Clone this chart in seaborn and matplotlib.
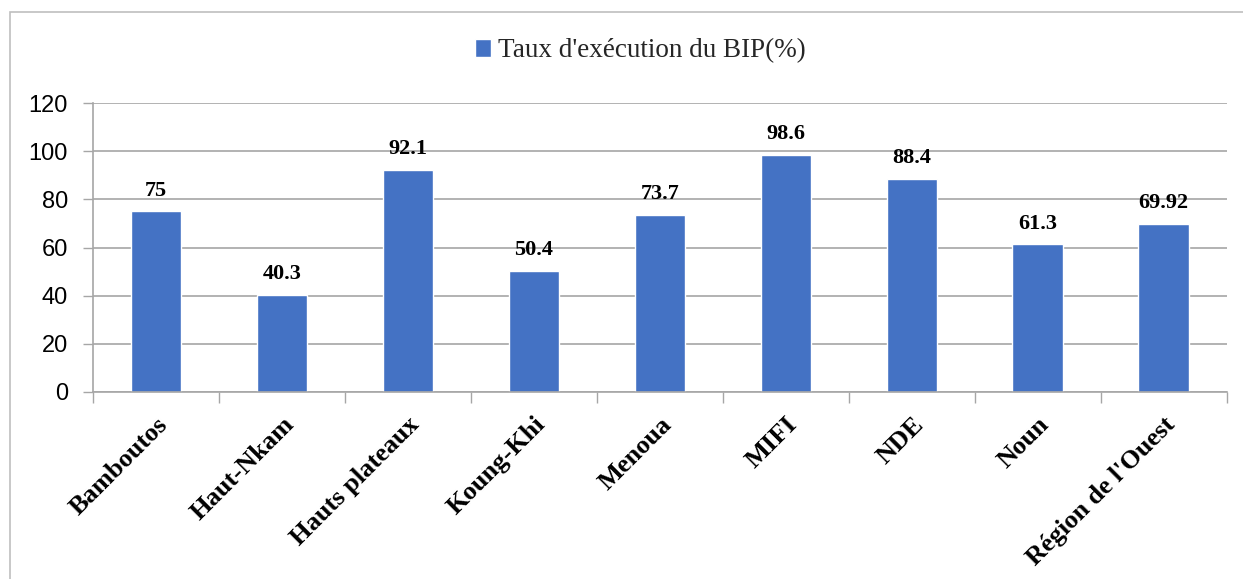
import numpy as np
import pandas as pd
import matplotlib
matplotlib.use("Agg")
import matplotlib.pyplot as plt
import seaborn as sns
from matplotlib.patches import Rectangle

# data
departements = ["Bamboutos", "Haut-Nkam", "Hauts plateaux", "Koung-Khi", "Menoua",
                "MIFI", "NDE", "Noun", "Région de l'Ouest"]
taux_execution = [75, 40.3, 92.1, 50.4, 73.7, 98.6, 88.4, 61.3, 69.92]
value_labels = ["75", "40.3", "92.1", "50.4", "73.7", "98.6", "88.4", "61.3", "69.92"]
y_ticks = [0, 20, 40, 60, 80, 100, 120]
serie_name = "Taux d'exécution du BIP(%)"

df = pd.DataFrame({"Departement": departements, "Taux": taux_execution})

sns.set_theme(style="white")
plt.rcParams["font.family"] = ["Liberation Sans", "DejaVu Sans"]

fig = plt.figure(figsize=(12.43, 5.79), dpi=100)
ax = fig.add_axes([0.0748, 0.323, 0.912, 0.499])

sns.barplot(data=df, x="Departement", y="Taux", color="#4472C4", width=0.4,
            saturation=1, label=serie_name, ax=ax)

# value labels above bars
for i, (v, txt) in enumerate(zip(taux_execution, value_labels)):
    ax.text(i, v + 4.5, txt, ha="center", va="bottom", fontsize=16,
            fontweight="bold", family="Liberation Serif", color="black")

ax.set_ylim(0, 120)
ax.set_xlim(-0.5, len(departements) - 0.5)
ax.set_yticks(y_ticks)
ax.set_yticklabels([str(t) for t in y_ticks], fontsize=17, color="black")
ax.yaxis.grid(True, color="#A6A6A6", linewidth=1.2)
ax.set_axisbelow(True)

ax.set_xticks(range(len(departements)))
ax.set_xticklabels(departements, rotation=45, ha="right", rotation_mode="anchor",
                   fontsize=19, fontweight="bold", family="Liberation Serif", color="black")
ax.set_xticks(np.arange(-0.5, len(departements)), minor=True)
ax.tick_params(axis="x", which="major", length=0, pad=15)
ax.tick_params(axis="x", which="minor", length=8, width=1, color="#A6A6A6", bottom=True)
ax.tick_params(axis="y", length=7, width=1, color="#A6A6A6", left=True, pad=11)

ax.set_xlabel("")
ax.set_ylabel("")
for side in ["top", "right"]:
    ax.spines[side].set_visible(False)
for side in ["left", "bottom"]:
    ax.spines[side].set_color("#A6A6A6")
    ax.spines[side].set_linewidth(1.2)

if ax.get_legend() is not None:
    ax.get_legend().remove()
handles, labels = ax.get_legend_handles_labels()
fig.legend(handles, labels, loc="center", bbox_to_anchor=(0.515, 0.912), frameon=False,
           prop={"family": "Liberation Serif", "size": 19.5}, handlelength=0.6,
           handleheight=0.6, handletextpad=0.25)

# outer chart border
fig.patches.append(Rectangle((10 / 1243, -0.05), 1.2, 1.05 - 12 / 579,
                             transform=fig.transFigure, fill=False,
                             edgecolor="#BFBFBF", linewidth=1.2))

fig.savefig("out.png", dpi=100, facecolor="white")
